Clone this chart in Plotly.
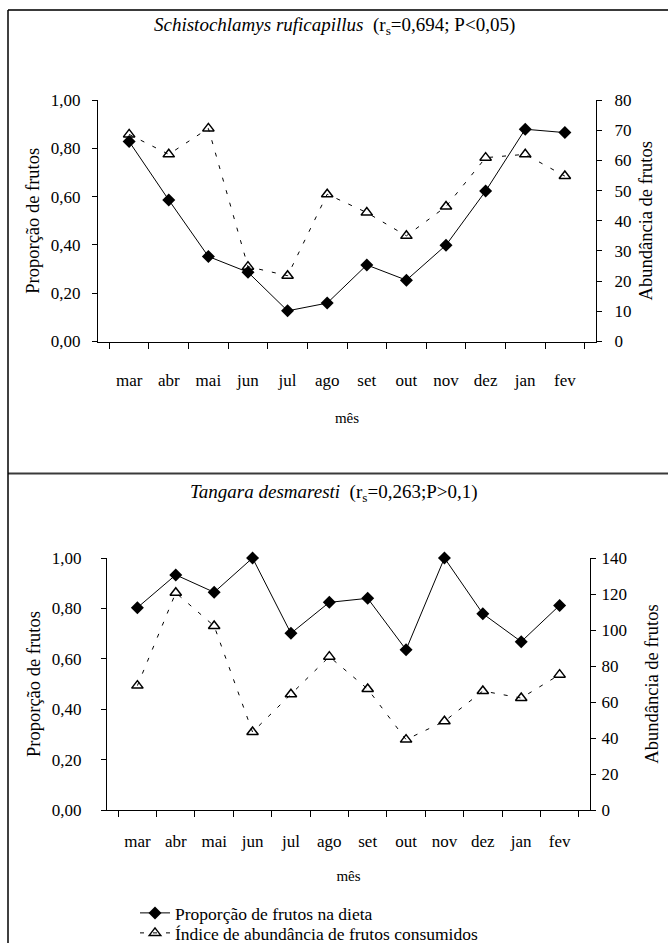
import plotly.graph_objects as go

months = ["mar", "abr", "mai", "jun", "jul", "ago", "set", "out", "nov", "dez", "jan", "fev"]

# Schistochlamys ruficapillus
s_prop = [0.828, 0.586, 0.352, 0.287, 0.127, 0.159, 0.317, 0.254, 0.399, 0.623, 0.879, 0.865]
s_abund = [68.6, 62.0, 70.6, 24.8, 21.8, 48.8, 42.7, 35.0, 44.7, 60.9, 62.0, 54.8]

# Tangara desmaresti
t_prop = [0.803, 0.933, 0.864, 1.00, 0.701, 0.824, 0.840, 0.636, 1.00, 0.779, 0.668, 0.812]
t_abund = [69.1, 120.7, 102.2, 43.3, 64.3, 85.2, 67.2, 39.1, 49.3, 66.1, 62.2, 75.2]

name_prop = "Proporção de frutos na dieta"
name_abund = "Índice de abundância de frutos consumidos"

W, H = 668, 943
FONT = "Times New Roman, Liberation Serif, Tinos, DejaVu Serif, serif"


def px(x):
    return x / W


def py(y):
    return 1 - y / H


diamond = dict(symbol="diamond", size=10, color="black")
tri = dict(symbol="triangle-up-open", size=10, color="black", line=dict(width=1.5, color="black"))
solid = dict(color="black", width=1)
dashed = dict(color="black", width=1, dash="4px,9px")

fig = go.Figure()
fig.add_trace(go.Scatter(x=months, y=s_abund, xaxis="x", yaxis="y2", mode="lines+markers",
                         marker=tri, line=dashed, name=name_abund, showlegend=True,
                         legend="legend2", cliponaxis=False))
fig.add_trace(go.Scatter(x=months, y=s_prop, xaxis="x", yaxis="y", mode="lines+markers",
                         marker=diamond, line=solid, name=name_prop, showlegend=True,
                         legend="legend", cliponaxis=False))
fig.add_trace(go.Scatter(x=months, y=t_abund, xaxis="x2", yaxis="y4", mode="lines+markers",
                         marker=tri, line=dashed, name=name_abund, showlegend=False,
                         cliponaxis=False))
fig.add_trace(go.Scatter(x=months, y=t_prop, xaxis="x2", yaxis="y3", mode="lines+markers",
                         marker=diamond, line=solid, name=name_prop, showlegend=False,
                         cliponaxis=False))

tickfont = dict(family=FONT, size=17, color="black")
ytitle_font = dict(family=FONT, size=18.5, color="black")
common_x = dict(type="category", tickson="boundaries", ticks="outside", ticklen=6,
                tickcolor="black", showline=True, linecolor="black", linewidth=1,
                showgrid=False, zeroline=False, tickfont=tickfont,
                categoryorder="array", categoryarray=months, automargin=False)
common_y = dict(showline=True, linecolor="black", linewidth=1, showgrid=False,
                zeroline=False, ticks="outside", ticklen=5, tickcolor="black",
                tickfont=tickfont, automargin=False)

legend_common = dict(xanchor="left", yanchor="middle", bgcolor="rgba(0,0,0,0)",
                     font=dict(family=FONT, size=17.5, color="black"),
                     itemsizing="trace", borderwidth=0)

fig.update_layout(
    width=W, height=H,
    margin=dict(l=0, r=0, t=0, b=0, autoexpand=False),
    paper_bgcolor="white", plot_bgcolor="white",
    separators=",.",
    font=dict(family=FONT, size=17, color="black"),
    xaxis=dict(domain=[px(98), px(596)], anchor="y", ticklabelstandoff=23,
               title=dict(text="mês", font=dict(family=FONT, size=15), standoff=23),
               **common_x),
    yaxis=dict(domain=[py(341.5), py(100)], anchor="x", range=[0, 1], dtick=0.2,
               tickformat=".2f", ticklabelstandoff=8,
               title=dict(text="Proporção de frutos", font=ytitle_font, standoff=6),
               **common_y),
    yaxis2=dict(overlaying="y", side="right", anchor="x", range=[0, 80], dtick=10,
                ticklabelstandoff=9,
                title=dict(text="Abundância de frutos", font=ytitle_font, standoff=8),
                **common_y),
    xaxis2=dict(domain=[px(107), px(590)], anchor="y3", ticklabelstandoff=16,
                title=dict(text="mês", font=dict(family=FONT, size=15), standoff=20),
                **common_x),
    yaxis3=dict(domain=[py(810), py(558)], anchor="x2", range=[0, 1], dtick=0.2,
                tickformat=".2f", ticklabelstandoff=16,
                title=dict(text="Proporção de frutos", font=ytitle_font, standoff=6),
                **common_y),
    yaxis4=dict(overlaying="y3", side="right", anchor="x2", range=[0, 140], dtick=20,
                ticklabelstandoff=2,
                title=dict(text="Abundância de frutos", font=ytitle_font, standoff=19),
                **common_y),
    legend=dict(x=px(135), y=py(913), **legend_common),
    legend2=dict(x=px(135), y=py(933), **legend_common),
    showlegend=True,
)

frame_color = "#3a3a3a"
fig.add_shape(type="line", xref="paper", yref="paper", x0=px(8), x1=px(668), y0=py(10), y1=py(10),
              line=dict(color=frame_color, width=2))
fig.add_shape(type="line", xref="paper", yref="paper", x0=px(8), x1=px(668), y0=py(473.5), y1=py(473.5),
              line=dict(color=frame_color, width=2))
fig.add_shape(type="line", xref="paper", yref="paper", x0=px(8), x1=px(8), y0=py(10), y1=py(943),
              line=dict(color="black", width=1.5))

fig.add_annotation(xref="paper", yref="paper", x=0.5, y=py(26), xanchor="center", yanchor="middle",
                   text="<i>Schistochlamys ruficapillus</i>  (r<sub>s</sub>=0,694; P&lt;0,05)",
                   showarrow=False, font=dict(family=FONT, size=19, color="black"))
fig.add_annotation(xref="paper", yref="paper", x=0.5, y=py(493), xanchor="center", yanchor="middle",
                   text="<i>Tangara desmaresti</i>  (r<sub>s</sub>=0,263;P&gt;0,1)",
                   showarrow=False, font=dict(family=FONT, size=19, color="black"))

fig.write_html("out.html", config={"displayModeBar": False},
               post_script="document.body.style.margin='0';document.body.style.overflow='hidden';")
